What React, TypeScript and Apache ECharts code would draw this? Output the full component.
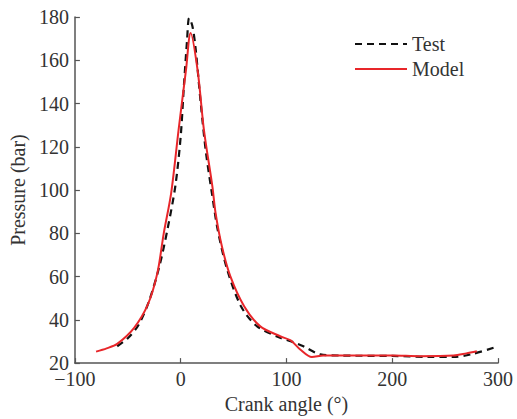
import React, { useEffect, useRef } from "react";
import * as echarts from "echarts";

const testX = [-60, -50, -40, -30, -20, -12, -5, 0, 3, 6, 8, 11, 14, 19, 24, 30, 35, 44, 57, 72, 94, 104, 116, 132, 150, 200, 233, 258, 274, 296];
const testY = [27.8, 31.5, 37.5, 48.5, 65, 83, 102, 124.7, 147.7, 169, 179.5, 176, 166, 140, 117, 97, 81.6, 63.2, 46.3, 37.1, 31.7, 30.1, 27.8, 24, 23.5, 23.3, 22.9, 22.9, 24, 27.1];

const modelX = [-80, -70, -60, -44, -31, -22, -16, -9, -2, 5, 9.4, 16, 22, 30, 33, 39, 47, 60, 75, 94, 104, 113, 124, 135, 200, 226, 258, 270, 280];
const modelY = [25.3, 26.8, 28.9, 36.3, 47.1, 61.7, 80, 98.6, 127.7, 155.4, 172.6, 155.4, 127.7, 101.6, 89.3, 73.9, 60.1, 46.3, 37.1, 32.4, 30.5, 26.3, 22.8, 23.5, 23.5, 23.2, 23.5, 24.5, 25.5];

const seriesNames = ["Test", "Model"];
const xTitle = "Crank angle (°)";
const yTitle = "Pressure (bar)";

const FONT = "'Liberation Serif', 'Times New Roman', serif";

export default function App() {
  const ref = useRef<HTMLDivElement>(null);
  useEffect(() => {
    if (!ref.current) return;
    const chart = echarts.init(ref.current, undefined, { renderer: "svg" });
    const axisLine = { show: true, onZero: false, lineStyle: { color: "#555", width: 1.5 } };
    const fmt = (v: number) => String(v).replace("-", "\u2212");
    chart.setOption({
      animation: false,
      backgroundColor: "#fff",
      grid: { left: 74, right: 19, top: 17, bottom: 55, containLabel: false },
      legend: {
        orient: "vertical",
        left: 354,
        top: 34,
        padding: 0,
        itemWidth: 52,
        itemHeight: 14,
        itemGap: 5,
        itemStyle: { opacity: 0 },
        textStyle: { fontFamily: FONT, fontSize: 20, color: "#333", lineHeight: 20 },
        data: seriesNames,
      },
      xAxis: {
        type: "value",
        min: -100,
        max: 300,
        interval: 100,
        name: xTitle,
        nameLocation: "middle",
        nameGap: 29,
        nameTextStyle: { fontFamily: FONT, fontSize: 20, color: "#333" },
        axisLine,
        axisTick: { show: true, inside: true, length: 5, lineStyle: { color: "#555", width: 1.2 } },
        axisLabel: { fontFamily: FONT, fontSize: 20, color: "#333", margin: 8, lineHeight: 16, formatter: fmt },
        splitLine: { show: false },
      },
      yAxis: {
        type: "value",
        min: 20,
        max: 180,
        interval: 20,
        name: yTitle,
        nameLocation: "middle",
        nameGap: 45,
        nameTextStyle: { fontFamily: FONT, fontSize: 20, color: "#333" },
        axisLine,
        axisTick: { show: true, inside: true, length: 5, lineStyle: { color: "#555", width: 1.2 } },
        axisLabel: { fontFamily: FONT, fontSize: 20, color: "#333", margin: 6, lineHeight: 16 },
        splitLine: { show: false },
      },
      series: [
        {
          name: seriesNames[0],
          type: "line",
          data: testX.map((x, i) => [x, testY[i]]),
          symbol: "none",
          smooth: 0.3,
          lineStyle: { color: "#111", width: 2.2, type: [7, 5] },
          itemStyle: { color: "#111" },
          z: 3,
        },
        {
          name: seriesNames[1],
          type: "line",
          data: modelX.map((x, i) => [x, modelY[i]]),
          symbol: "none",
          smooth: 0.3,
          lineStyle: { color: "#e8262a", width: 2 },
          itemStyle: { color: "#e8262a" },
          z: 4,
        },
      ],
    });
    return () => chart.dispose();
  }, []);
  return (
    <div
      ref={ref}
      style={{ position: "fixed", left: 0, top: 0, width: 517, height: 419, background: "#fff" }}
    />
  );
}
